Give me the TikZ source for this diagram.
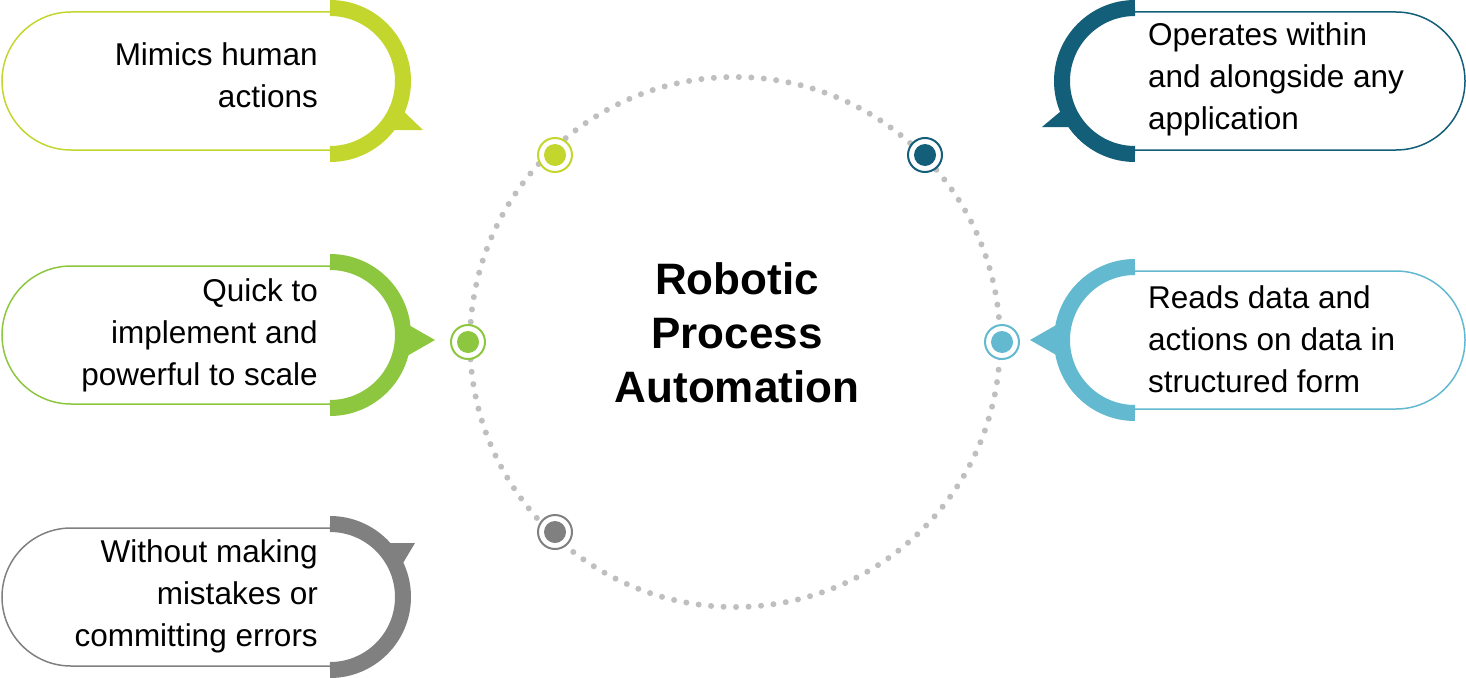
\documentclass[tikz,border=0pt]{standalone}
\usepackage{fontspec}
\setmainfont{Liberation Sans}
\begin{document}
\begin{tikzpicture}[x=1pt,y=-1pt,
  thin/.style={line width=1.5pt},
  band/.style={line width=16pt},
  txt/.style={font=\fontsize{31.5}{42}\selectfont,inner sep=0pt},
  ring/.style={circle,line width=2pt,minimum size=34pt,inner sep=0pt,fill=white}]
\definecolor{lime}{HTML}{C3D62E}
\definecolor{grn}{HTML}{8DC63F}
\definecolor{gry}{HTML}{7F807F}
\definecolor{teal}{HTML}{135E78}
\definecolor{lblue}{HTML}{62B9D0}
\useasboundingbox (0,0) rectangle (1466,677);
% dotted circle
\node[circle,draw=gray!50,line width=6pt,dash pattern=on 0pt off 12.5pt,line cap=round,minimum size=530pt] (c) at (735,342) {};
\node[font=\fontsize{44}{54}\selectfont\bfseries,align=center] (t) at (737,333) {Robotic\\Process\\Automation};
% markers
\foreach \p/\col [count=\i] in {{(555,155)}/lime,{(925,155)}/teal,{(468,342)}/grn,{(1002,342)}/lblue,{(555,532)}/gry}{
  \node[ring,draw=\col] (m\i) at \p {};
  \fill[\col] (m\i.center) circle (11);
}
% box 1
\draw[lime,thin] (330,12) -- (71,12) arc (270:90:69) -- (330,150);
\draw[lime,band] (330,8) arc (270:450:73);
\fill[lime] (398,106) -- (423,130) -- (385,130) -- cycle;
\node[txt,align=right,anchor=east] (b1) at (318,75) {Mimics human\\actions};
% box 2
\draw[grn,thin] (330,266) -- (71,266) arc (270:90:69) -- (330,404);
\draw[grn,band] (330,262) arc (270:450:73);
\fill[grn] (400,320) -- (435,340) -- (400,360) -- cycle;
\node[txt,align=right,anchor=east] (b2) at (318,335) {Quick to\\implement and\\powerful to scale};
% box 3
\draw[gry,thin] (330,528) -- (71,528) arc (270:90:69) -- (330,666);
\draw[gry,band] (330,524) arc (270:450:73);
\fill[gry] (385,543) -- (415,543) -- (400,568) -- cycle;
\node[txt,align=right,anchor=east] (b3) at (318,596) {Without making\\mistakes or\\committing errors};
% box 4
\draw[teal,thin] (1135,12) -- (1396,12) arc (270:450:69) -- (1135,150);
\draw[teal,band] (1135,8) arc (270:90:73);
\fill[teal] (1067,106) -- (1042,127) -- (1080,127) -- cycle;
\node[txt,align=left,anchor=west] (b4) at (1148,79) {Operates within\\and alongside any\\application};
% box 5
\draw[lblue,thin] (1135,271) -- (1396,271) arc (270:450:69) -- (1135,409);
\draw[lblue,band] (1135,267) arc (270:90:73);
\fill[lblue] (1065,320) -- (1030,340) -- (1065,360) -- cycle;
\node[txt,align=left,anchor=west] (b5) at (1148,339) {Reads data and\\actions on data in\\structured form};
\end{tikzpicture}
\end{document}
